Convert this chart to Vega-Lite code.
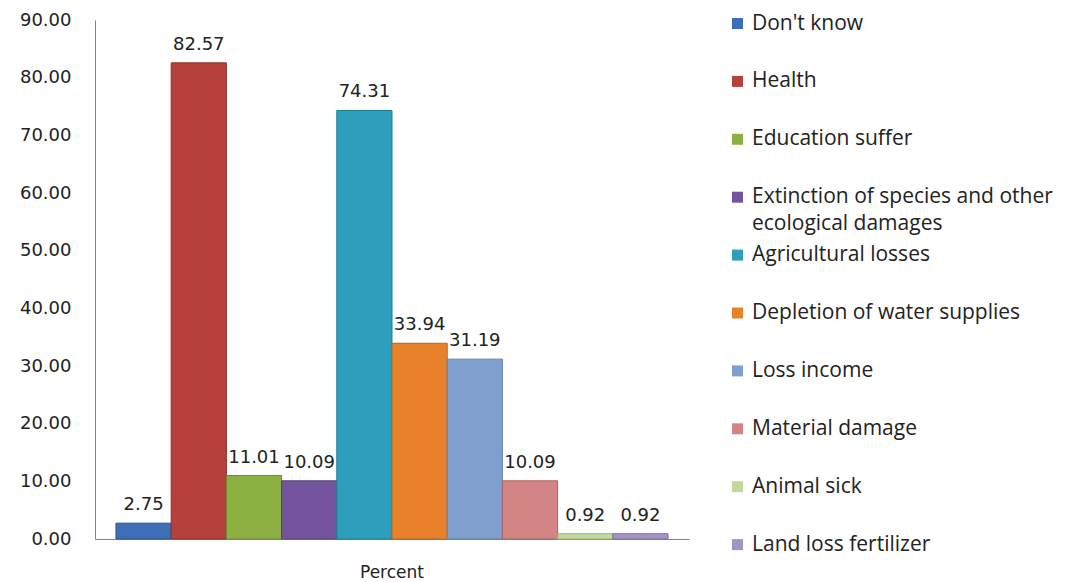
{
  "$schema": "https://vega.github.io/schema/vega-lite/v6.json",
  "autosize": {"type": "none"},
  "width": 594,
  "height": 519,
  "padding": {"left": 95, "top": 20, "right": 390, "bottom": 43},
  "background": "white",
  "config": {"view": {"stroke": null}, "font": "DejaVu Sans"},
  "data": {
    "values": [
      {"group": "Percent", "cause": "Don't know", "value": 2.75},
      {"group": "Percent", "cause": "Health", "value": 82.57},
      {"group": "Percent", "cause": "Education suffer", "value": 11.01},
      {"group": "Percent", "cause": "Extinction of species and other ecological damages", "value": 10.09},
      {"group": "Percent", "cause": "Agricultural losses", "value": 74.31},
      {"group": "Percent", "cause": "Depletion of water supplies", "value": 33.94},
      {"group": "Percent", "cause": "Loss income", "value": 31.19},
      {"group": "Percent", "cause": "Material damage", "value": 10.09},
      {"group": "Percent", "cause": "Animal sick", "value": 0.92},
      {"group": "Percent", "cause": "Land loss fertilizer", "value": 0.92}
    ]
  },
  "encoding": {
    "x": {
      "field": "group",
      "type": "nominal",
      "scale": {"paddingInner": 0, "paddingOuter": 0.038},
      "axis": {
        "title": null,
        "labelAngle": 0,
        "ticks": false,
        "domainColor": "#868686",
        "labelFont": "DejaVu Sans",
        "labelFontSize": 17,
        "labelColor": "#222222",
        "labelPadding": 25
      }
    },
    "xOffset": {
      "field": "cause",
      "type": "nominal",
      "sort": ["Don't know", "Health", "Education suffer", "Extinction of species and other ecological damages", "Agricultural losses", "Depletion of water supplies", "Loss income", "Material damage", "Animal sick", "Land loss fertilizer"],
      "scale": {"paddingInner": 0, "paddingOuter": 0}
    },
    "y": {
      "field": "value",
      "type": "quantitative",
      "scale": {"domain": [0, 90], "nice": false},
      "axis": {
        "title": null,
        "values": [0, 10, 20, 30, 40, 50, 60, 70, 80, 90],
        "format": ".2f",
        "grid": false,
        "ticks": false,
        "domainColor": "#868686",
        "labelFont": "DejaVu Sans",
        "labelFontSize": 18,
        "labelPadding": 24,
        "labelColor": "#222222"
      }
    }
  },
  "layer": [
    {
      "mark": {"type": "bar", "strokeWidth": 1},
      "encoding": {
        "color": {
          "field": "cause",
          "type": "nominal",
          "sort": ["Don't know", "Health", "Education suffer", "Extinction of species and other ecological damages", "Agricultural losses", "Depletion of water supplies", "Loss income", "Material damage", "Animal sick", "Land loss fertilizer"],
          "scale": {"range": ["#3C6FB6", "#B5403C", "#8DB043", "#74549C", "#2E9EBD", "#E8822A", "#819FCE", "#D28584", "#C3D99B", "#A493C5"]},
          "legend": {
            "title": null,
            "orient": "none",
            "legendX": 632,
            "legendY": -7,
            "padding": 0,
            "symbolType": "square",
            "symbolSize": 121,
            "symbolStrokeWidth": 0,
            "labelOffset": 4,
            "labelFont": "Open Sans",
            "labelFontSize": 21,
            "labelColor": "#222222",
            "labelLimit": 400,
            "gridAlign": "all",
            "rowPadding": 8.9,
            "labelExpr": "datum.label == 'Extinction of species and other ecological damages' ? ['Extinction of species and other', 'ecological damages'] : datum.label",
            "encode": {"labels": {"update": {"lineHeight": {"value": 27}}}}
          }
        },
        "stroke": {
          "field": "cause",
          "type": "nominal",
          "sort": ["Don't know", "Health", "Education suffer", "Extinction of species and other ecological damages", "Agricultural losses", "Depletion of water supplies", "Loss income", "Material damage", "Animal sick", "Land loss fertilizer"],
          "scale": {"range": ["#2A5590", "#8E2E2B", "#6C8A30", "#574077", "#1F7A93", "#B8641C", "#6380AD", "#A86462", "#9CB573", "#7F6FA0"]},
          "legend": null
        }
      }
    },
    {
      "mark": {"type": "text", "baseline": "alphabetic", "dy": -13, "fontSize": 18, "font": "DejaVu Sans", "color": "#222222"},
      "encoding": {"text": {"field": "value", "type": "quantitative", "format": ".2f"}}
    }
  ]
}
